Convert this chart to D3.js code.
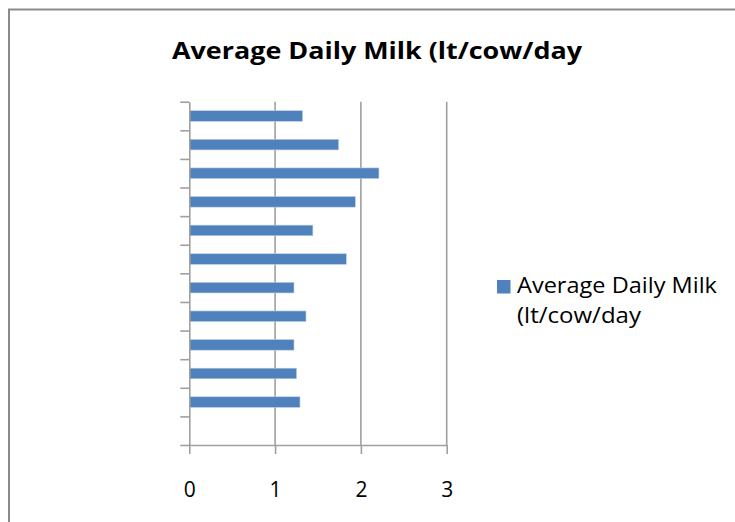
<!DOCTYPE html>
<html>
<head>
<meta charset="utf-8">
<script src="https://cdn.jsdelivr.net/npm/d3@7"></script>
<style>
  body { margin: 0; background: #fff; }
  svg { display: block; font-family: "Open Sans", Lato, sans-serif; }
</style>
</head>
<body>
<svg id="chart" width="735" height="522"></svg>
<script>
// categories listed top to bottom (no labels are shown on the chart)
const categories = ["c1", "c2", "c3", "c4", "c5", "c6", "c7", "c8", "c9", "c10", "c11", "c12"];
const milk = [1.32, 1.74, 2.21, 1.935, 1.44, 1.83, 1.22, 1.36, 1.22, 1.25, 1.29, null];
const xTicks = [0, 1, 2, 3];
const title = "Average Daily Milk (lt/cow/day";
const seriesName = ["Average Daily Milk", "(lt/cow/day"];

const svg = d3.select("#chart");
const blue = "#4f81bd";
const grey = "#a0a0a0";

// outer frame
svg.append("rect")
    .attr("x", 9).attr("y", 9.5)
    .attr("width", 740).attr("height", 530)
    .attr("fill", "none")
    .attr("stroke", "#8a8a8a")
    .attr("stroke-width", 2);

svg.append("text")
    .attr("x", 172).attr("y", 59)
    .attr("textLength", 410)
    .attr("lengthAdjust", "spacingAndGlyphs")
    .style("font-size", "23px")
    .style("font-weight", "bold")
    .attr("fill", "#000")
    .text(title);

const plotTop = 101.7, plotBottom = 445;
const x = d3.scaleLinear().domain([0, 3]).range([189.3, 446.7]);
const y = d3.scaleBand().domain(categories).range([plotTop, plotBottom])
    .paddingInner(0.63).paddingOuter(0.315);
const yEdge = d3.scaleLinear().domain([0, categories.length]).range([plotBottom, plotTop]);

// gridlines
svg.append("g").selectAll("line")
    .data(xTicks.slice(1))
    .enter().append("line")
    .attr("x1", d => x(d)).attr("x2", d => x(d))
    .attr("y1", plotTop).attr("y2", plotBottom)
    .attr("stroke", grey).attr("stroke-width", 1.6);

// bars
svg.append("g").selectAll("rect")
    .data(categories.map((c, i) => ({ c, v: milk[i] })).filter(d => d.v != null))
    .enter().append("rect")
    .attr("x", x(0))
    .attr("y", d => y(d.c))
    .attr("width", d => x(d.v) - x(0))
    .attr("height", y.bandwidth())
    .attr("fill", blue)
    .attr("stroke", "#b9cde5")
    .attr("stroke-width", 0.6);

// y axis (ticks on category boundaries)
const yAxis = svg.append("g")
    .attr("transform", `translate(${x(0)},0)`)
    .call(d3.axisLeft(yEdge).tickValues(d3.range(categories.length + 1))
        .tickSize(9).tickSizeOuter(0).tickFormat(""));
yAxis.selectAll("line, path").attr("stroke", grey).attr("stroke-width", 1.6);

// x axis
const xAxis = svg.append("g")
    .attr("transform", `translate(0,${plotBottom})`)
    .call(d3.axisBottom(x).tickValues(xTicks).tickSize(9).tickSizeOuter(0)
        .tickFormat(d3.format("d")));
xAxis.selectAll("line, path").attr("stroke", grey).attr("stroke-width", 1.6);
xAxis.selectAll("text")
    .attr("y", 52).attr("dy", 0)
    .attr("fill", "#000")
    .style("font-size", "21px")
    .style("font-family", "'Open Sans', sans-serif");

// legend
const legend = svg.append("g");
legend.append("rect")
    .attr("x", 497).attr("y", 280)
    .attr("width", 13.5).attr("height", 13.5)
    .attr("fill", blue);
const legendWidths = [200, 124];
legend.selectAll("text")
    .data(seriesName)
    .enter().append("text")
    .attr("x", 517)
    .attr("y", (d, i) => 293 + i * 30)
    .attr("textLength", (d, i) => legendWidths[i])
    .attr("lengthAdjust", "spacingAndGlyphs")
    .attr("fill", "#000")
    .style("font-size", "21px")
    .text(d => d);
</script>
</body>
</html>
